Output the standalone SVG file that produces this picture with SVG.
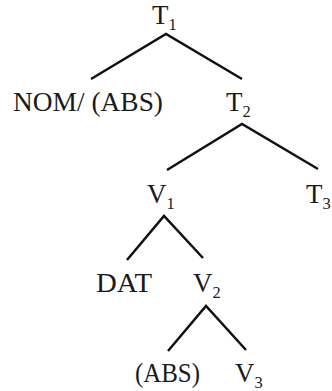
<svg xmlns="http://www.w3.org/2000/svg" width="332" height="391" viewBox="0 0 332 391">
<style>
.lbl{font-family:"Liberation Serif","Times New Roman",serif;font-size:27px;fill:#1a1a1a}
.sub{font-size:16.5px}
.edge{stroke:#111;stroke-width:2.5;fill:none;stroke-linecap:butt}
</style>
<rect width="332" height="391" fill="#fff"/>
<g id="edges">
<path class="edge" d="M91,79 L166,34 L242,79"/>
<path class="edge" d="M167,170 L242,124 L318,169"/>
<path class="edge" d="M127,260 L164,216 L203,258"/>
<path class="edge" d="M168,351 L206,306 L246,350"/>
</g>
<g id="T1"><text class="lbl" x="152" y="24">T<tspan class="sub" dy="6">1</tspan></text></g>
<g id="NOM"><text class="lbl" x="13" y="111" textLength="150" lengthAdjust="spacingAndGlyphs">NOM/ (ABS)</text></g>
<g id="T2"><text class="lbl" x="226" y="111">T<tspan class="sub" dy="6">2</tspan></text></g>
<g id="V1"><text class="lbl" x="147" y="203">V<tspan class="sub" dy="6">1</tspan></text></g>
<g id="T3"><text class="lbl" x="306" y="203">T<tspan class="sub" dy="6">3</tspan></text></g>
<g id="DAT"><text class="lbl" x="96" y="292" textLength="56" lengthAdjust="spacingAndGlyphs">DAT</text></g>
<g id="V2"><text class="lbl" x="193" y="292">V<tspan class="sub" dy="6">2</tspan></text></g>
<g id="ABS"><text class="lbl" x="135" y="382" textLength="65" lengthAdjust="spacingAndGlyphs">(ABS)</text></g>
<g id="V3"><text class="lbl" x="235" y="382">V<tspan class="sub" dy="6">3</tspan></text></g>
</svg>
